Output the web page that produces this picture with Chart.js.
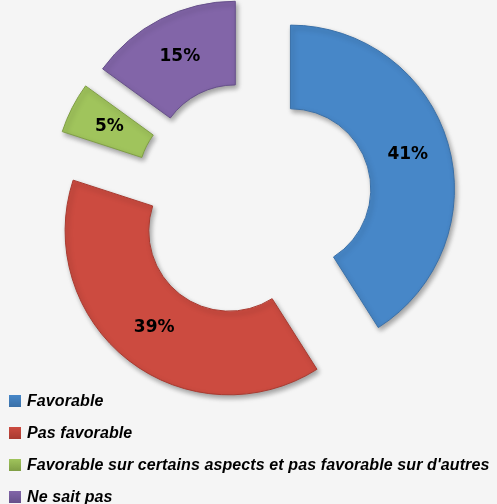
<!DOCTYPE html>
<html lang="fr">
<head>
<meta charset="utf-8">
<title>Avis</title>
<script src="https://cdn.jsdelivr.net/npm/chart.js@4.4.1/dist/chart.umd.min.js"></script>
<style>
  html, body { margin: 0; padding: 0; background: #f5f5f5; }
  #cadre { position: relative; width: 497px; height: 504px; overflow: hidden; }
  #graphique { position: absolute; left: 0; top: 0; }
  #legende { position: absolute; left: 9px; top: 392px; margin: 0; padding: 0; list-style: none; }
  #legende li {
    height: 32px; line-height: 32px; white-space: nowrap;
    font: italic bold 16px "Liberation Sans", Arial, sans-serif; color: #000;
    letter-spacing: 0.1px;
  }
  #legende span.boite {
    display: inline-block; width: 12px; height: 12px; margin-right: 6px; vertical-align: -1px;
  }
</style>
</head>
<body>
<div id="cadre">
  <canvas id="graphique" width="497" height="504"></canvas>
  <ul id="legende"></ul>
</div>
<script>
const categories = ['Favorable', 'Pas favorable', 'Favorable sur certains aspects et pas favorable sur d\'autres', 'Ne sait pas'];
const pourcentages = [41, 39, 5, 15];
const couleurs = ['#4787c8', '#cc4b40', '#a0c45c', '#8265a8'];
const bordures = ['#3a70a8', '#a83a30', '#7f9e45', '#66508a'];
const ecart = 39; // éclatement des parts

// légende
const legende = document.getElementById('legende');
categories.forEach((nom, i) => {
    const li = document.createElement('li');
    const boite = document.createElement('span');
    boite.className = 'boite';
    boite.style.background = `linear-gradient(${couleurs[i]}, ${bordures[i]})`;
    li.appendChild(boite);
    li.appendChild(document.createTextNode(nom));
    legende.appendChild(li);
});

// parts éclatées + étiquettes
const eclatement = {
    id: 'eclatement',
    afterDatasetsUpdate(chart) {
        chart.getDatasetMeta(0).data.forEach(arc => {
            const milieu = (arc.startAngle + arc.endAngle) / 2;
            arc.x += Math.cos(milieu) * ecart;
            arc.y += Math.sin(milieu) * ecart;
        });
    },
    beforeDatasetsDraw(chart) {
        const ctx = chart.ctx;
        ctx.save();
        ctx.shadowColor = 'rgba(0, 0, 0, 0.35)';
        ctx.shadowBlur = 5;
        ctx.shadowOffsetX = 2;
        ctx.shadowOffsetY = 3;
    },
    afterDatasetsDraw(chart) {
        const ctx = chart.ctx;
        ctx.restore();
        ctx.save();
        ctx.font = 'bold 17px "DejaVu Sans", sans-serif';
        ctx.fillStyle = '#000';
        ctx.textAlign = 'center';
        ctx.textBaseline = 'middle';
        chart.getDatasetMeta(0).data.forEach((arc, i) => {
            const p = arc.getCenterPoint();
            ctx.fillText(pourcentages[i] + '%', p.x, p.y);
        });
        ctx.restore();
    }
};

const ctx = document.getElementById('graphique').getContext('2d');
const graphique = new Chart(ctx, {
    type: 'doughnut',
    data: {
        labels: categories,
        datasets: [{
            data: pourcentages,
            backgroundColor: couleurs,
            borderColor: bordures,
            borderWidth: 1
        }]
    },
    options: {
        responsive: false,
        animation: false,
        radius: 164,
        cutout: '49%',
        layout: {
            padding: { left: 9, top: 0, right: 0, bottom: 104 }
        },
        plugins: {
            legend: { display: false },
            tooltip: { enabled: false }
        }
    },
    plugins: [eclatement]
});
</script>
</body>
</html>
